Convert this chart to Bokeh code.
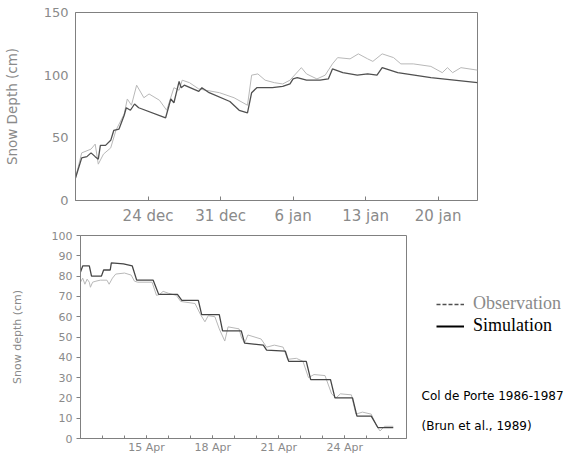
from bokeh.plotting import figure
from bokeh.layouts import column, row
from bokeh.models import Range1d, FixedTicker, Legend, LegendItem, Label
from bokeh.embed import file_html
from bokeh.resources import INLINE

# ---------------- data ----------------
# Top panel (winter accumulation), x = days since 17 Dec
top_tick_days = [7, 14, 21, 28, 35]
top_tick_labels = ["24 dec", "31 dec", "6 jan", "13 jan", "20 jan"]
top_y_ticks = [0, 50, 100, 150]

top_sim_day = [0.0, 0.6, 1.1, 1.5, 1.9, 2.2, 2.4, 2.9, 3.4, 3.7, 4.2, 4.7, 4.9, 5.3, 5.7, 6.1,
               8.7, 9.2, 9.5, 10.0, 10.2, 10.5, 11.9, 12.2, 12.9, 14.9, 15.8, 16.6, 17.0, 17.5,
               19.0, 20.0, 20.7, 21.0, 21.4, 22.3, 23.6, 24.4, 24.8, 25.8, 27.2, 28.2, 29.1,
               29.6, 31.1, 34.3, 38.8]
top_sim_depth = [18, 34, 35, 38, 35, 33, 44, 44, 48, 56, 57, 68, 74, 72, 77, 74,
                 66, 81, 78, 95, 90, 92, 87, 90, 86, 79, 72, 70, 86, 90,
                 90, 91, 93, 97, 98, 96, 96, 97, 105, 102, 100, 101, 100,
                 106, 102, 98, 94]

top_obs_day = [0.0, 0.6, 1.5, 1.9, 2.2, 2.7, 3.4, 3.9, 4.7, 5.0, 5.4, 5.9, 6.6, 7.1, 8.1, 8.8,
               9.5, 10.0, 10.3, 11.0, 11.9, 13.9, 15.3, 16.6, 17.0, 17.6, 18.3, 19.2, 20.0,
               20.7, 21.8, 22.3, 23.3, 24.1, 24.8, 25.3, 26.5, 27.3, 28.2, 28.7, 29.6, 30.7,
               31.4, 32.6, 34.3, 35.4, 35.9, 36.4, 37.2, 38.8]
top_obs_depth = [18, 38, 41, 45, 29, 37, 42, 56, 69, 81, 76, 92, 82, 85, 80, 72,
                 90, 88, 96, 94, 89, 86, 82, 76, 100, 101, 96, 94, 93,
                 96, 106, 101, 97, 100, 109, 114, 113, 117, 113, 111, 117, 114,
                 109, 109, 107, 102, 106, 102, 106, 104]

# Bottom panel (spring melt), x = day of April
bot_tick_days = [15, 18, 21, 24]
bot_tick_labels = ["15 Apr", "18 Apr", "21 Apr", "24 Apr"]
bot_minor_days = list(range(13, 27))
bot_y_ticks = [0, 10, 20, 30, 40, 50, 60, 70, 80, 90, 100]

bot_sim_day = [12.0, 12.1, 12.4, 12.5, 12.95, 13.05, 13.35, 13.4, 13.95, 14.35, 14.55, 15.3,
               15.55, 16.4, 16.6, 17.35, 17.5, 18.3, 18.45, 19.3, 19.45, 20.3, 20.45, 21.3,
               21.45, 22.25, 22.45, 23.35, 23.55, 24.35, 24.55, 25.2, 25.5, 26.2]
bot_sim_depth = [82, 85, 85, 80, 80, 83, 83, 86.5, 86, 85, 78, 78,
                 71, 71, 68, 68, 61, 61, 53, 53, 47, 46, 43.5, 43,
                 38, 38, 29, 29, 20, 20, 11, 11, 5.4, 5.4]

bot_obs_day = [12.0, 12.1, 12.2, 12.3, 12.4, 12.45, 12.55, 12.7, 12.9, 13.2, 13.3, 13.45, 13.6,
               14.0, 14.3, 14.45, 14.6, 15.25, 15.45, 15.6, 15.75, 16.0, 16.35, 16.55, 17.2,
               17.45, 17.65, 17.8, 18.1, 18.3, 18.55, 18.7, 19.2, 19.3, 19.45, 19.6, 20.2,
               20.45, 20.8, 21.2, 21.4, 21.8, 22.1, 22.35, 22.6, 23.1, 23.4, 23.6, 23.8,
               24.3, 24.5, 24.8, 25.2, 25.45, 25.6, 25.8, 26.2]
bot_obs_depth = [77, 79, 76, 78.5, 77, 74.5, 77, 77.5, 78, 78, 76, 79, 81,
                 81.5, 80.5, 77.5, 77, 77, 70.5, 71, 72.5, 71.5, 70.5, 67.5, 66.5,
                 61, 57.5, 60.5, 60, 54, 48, 55, 54, 50, 47, 51, 49,
                 45, 46, 45, 39, 39.5, 38, 30, 31.5, 31, 22, 20, 22,
                 21.5, 12, 13, 12, 6, 3.7, 6, 6]

legend_labels = ["Observation", "Simulation"]
caption_lines = ["Col de Porte 1986-1987", "(Brun et al., 1989)"]

# ---------------- style ----------------
GRAY = "#8a8a8a"
AX = "#808080"
SANS = "DejaVu Sans"
NAN = float("nan")

def style(p):
    p.xgrid.visible = False
    p.ygrid.visible = False
    p.outline_line_color = AX
    p.outline_line_width = 1
    p.background_fill_color = "white"
    p.border_fill_color = "white"
    for ax in (p.xaxis[0], p.yaxis[0]):
        ax.axis_line_color = AX
        ax.major_tick_line_color = AX
        ax.minor_tick_line_color = AX
        ax.major_label_text_color = GRAY
        ax.major_label_text_font = SANS
        ax.axis_label_text_color = GRAY
        ax.axis_label_text_font = SANS
        ax.axis_label_text_font_style = "normal"

# ---------------- top figure ----------------
p1 = figure(width=487, height=227, min_border_left=69, min_border_top=12,
            min_border_bottom=25, min_border_right=10,
            x_range=Range1d(0, 38.8), y_range=Range1d(0, 150),
            output_backend="svg", toolbar_location=None)
style(p1)
p1.line(top_obs_day, top_obs_depth, line_color="#b8b8b8", line_width=1)
p1.line(top_sim_day, top_sim_depth, line_color="#505050", line_width=1.3)

p1.xaxis.ticker = FixedTicker(ticks=top_tick_days)
p1.xaxis.major_label_overrides = {d: s for d, s in zip(top_tick_days, top_tick_labels)}
p1.xaxis.major_tick_in = 4
p1.xaxis.major_tick_out = 0
p1.xaxis.minor_tick_line_color = None
p1.xaxis.major_label_standoff = 6
p1.xaxis.major_label_text_font_size = "15px"

p1.yaxis.ticker = FixedTicker(ticks=top_y_ticks)
p1.yaxis.major_tick_in = 0
p1.yaxis.major_tick_out = 0
p1.yaxis.minor_tick_line_color = None
p1.yaxis.major_label_standoff = 7
p1.yaxis.major_label_text_font_size = "13px"
p1.yaxis.axis_label = "Snow Depth (cm)"
p1.yaxis.axis_label_text_font_size = "13.5px"
p1.yaxis.axis_label_standoff = 21

# ---------------- bottom figure ----------------
p2 = figure(width=416, height=229, min_border_left=80, min_border_top=8,
            min_border_bottom=17, min_border_right=10,
            x_range=Range1d(12, 26.8), y_range=Range1d(0, 100),
            output_backend="svg", toolbar_location=None)
style(p2)
p2.line(bot_obs_day, bot_obs_depth, line_color="#b8b8b8", line_width=1)
p2.line(bot_sim_day, bot_sim_depth, line_color="#454545", line_width=1.3)

p2.xaxis.ticker = FixedTicker(ticks=bot_tick_days, minor_ticks=bot_minor_days)
p2.xaxis.major_label_overrides = {d: s for d, s in zip(bot_tick_days, bot_tick_labels)}
p2.xaxis.major_tick_in = 3
p2.xaxis.major_tick_out = 0
p2.xaxis.minor_tick_in = 3
p2.xaxis.minor_tick_out = 0
p2.xaxis.major_label_standoff = 2
p2.xaxis.major_label_text_font_size = "11px"

p2.yaxis.ticker = FixedTicker(ticks=bot_y_ticks)
p2.yaxis.major_tick_in = 0
p2.yaxis.major_tick_out = 4
p2.yaxis.minor_tick_line_color = None
p2.yaxis.major_label_standoff = 4
p2.yaxis.major_label_text_font_size = "11px"
p2.yaxis.axis_label = "Snow depth (cm)"
p2.yaxis.axis_label_text_font_size = "11px"
p2.yaxis.axis_label_standoff = 25

# ---------------- side panel: legend + caption ----------------
p3 = figure(width=152, height=229, min_border=0, min_border_left=0,
            min_border_right=0, min_border_top=0, min_border_bottom=0,
            x_range=Range1d(0, 152), y_range=Range1d(0, 229),
            x_axis_location=None, y_axis_location=None,
            output_backend="svg", toolbar_location=None)
p3.grid.visible = False
p3.outline_line_color = None
p3.background_fill_color = "white"
p3.border_fill_color = "white"

# legend entries (style carriers, no visible data)
leg_obs = p3.line(x=[NAN], y=[NAN], line_color="#505050", line_width=1.3, line_dash="4 2")
leg_sim = p3.line(x=[NAN], y=[NAN], line_color="black", line_width=2)

def make_legend(label, renderer, color, loc):
    lg = Legend(items=[LegendItem(label=label, renderers=[renderer])], location=loc,
                orientation="vertical", padding=0, margin=0, spacing=0,
                glyph_width=28, glyph_height=20, label_height=20, label_standoff=9,
                label_text_font="Liberation Serif", label_text_font_size="18px",
                label_text_color=color, background_fill_alpha=0, border_line_color=None)
    p3.add_layout(lg)

make_legend(legend_labels[0], leg_obs, "#8a8a8a", (20, 124))
make_legend(legend_labels[1], leg_sim, "black", (20, 102))

for txt, yy in zip(caption_lines, [48, 14.5]):
    p3.add_layout(Label(x=5, y=yy, text=txt, text_font=SANS, text_font_size="12px",
                        text_color="black", text_baseline="alphabetic"))

layout = column(p1, row(p2, p3, spacing=0), spacing=0)
open("out.html", "w").write(file_html(layout, INLINE))
